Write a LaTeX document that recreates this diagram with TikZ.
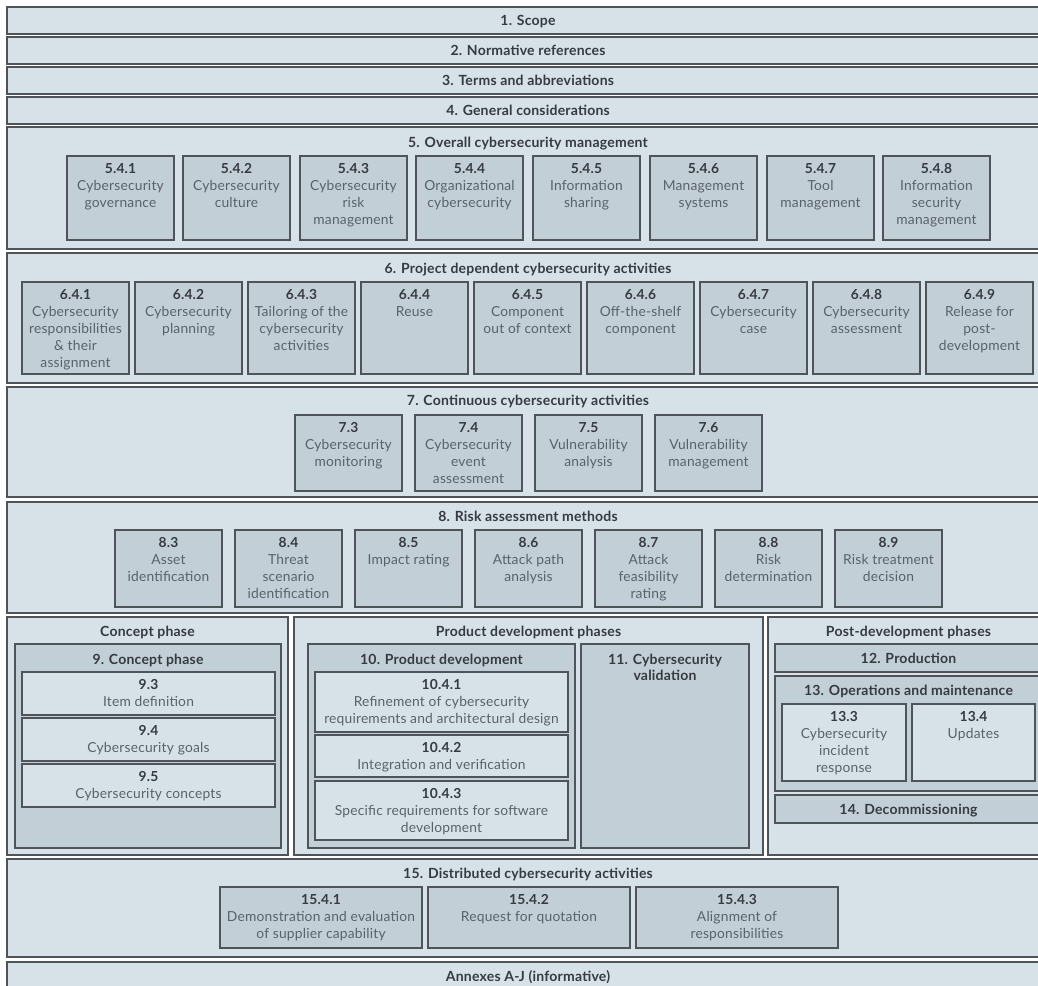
\documentclass[tikz,border=0pt]{standalone}
\usepackage{fontspec}
\setmainfont{Lato}[LetterSpace=1.5]
\definecolor{bandc}{HTML}{D6E1E8}
\definecolor{boxc}{HTML}{C3CFD6}
\definecolor{linec}{HTML}{4E545A}
\definecolor{headc}{HTML}{353B40}
\definecolor{bodyc}{HTML}{58626A}

\tikzset{
  band/.style={draw=linec, fill=bandc, line width=1.3pt, inner sep=0pt, outer sep=0pt},
  darkbox/.style={draw=linec, fill=boxc, line width=1.3pt, inner sep=0pt, outer sep=0pt},
  head/.style={font=\fontsize{14}{17}\selectfont\bfseries, text=headc, inner sep=0pt, anchor=base},
  headml/.style={font=\fontsize{14}{16}\selectfont\bfseries, text=headc, inner sep=0pt, align=center, anchor=north},
  body/.style={font=\fontsize{13.8}{17}\selectfont, text=bodyc, align=center, inner sep=0pt, anchor=north},
}

% plain rectangle: name, style, x1, y1, x2, y2
\newcommand\blk[6]{\node[#2, anchor=north west, minimum width={#5-#3}, minimum height={#6-#4}] (#1) at (#3,#4) {};}
% clause box with bold number and description: name, style, x1, y1, x2, y2, number, text
\newcommand\clause[8]{\blk{#1}{#2}{#3}{#4}{#5}{#6}
  \node[body] (#1-t) at ([yshift=-7pt]#1.north) {{\bfseries\color{headc}#7}\\#8};}
% small clause box of fixed width 107
\newcommand\smallclause[6]{\clause{#1}{darkbox}{#2}{#3}{#2+107}{#4}{#5}{#6}}

\begin{document}
\begin{tikzpicture}[x=1pt, y=-1pt]
\useasboundingbox (0,0) rectangle (1038,985);
\fill[white] (0,0) rectangle (1038,985);
\clip (0,0) rectangle (1038,985);

% clauses 1-4
\blk{b1}{band}{7}{7}{1049}{34}     \node[head] (b1-t) at (528,25.5) {1. Scope};
\blk{b2}{band}{7}{37}{1049}{64}    \node[head] (b2-t) at (528,55.5) {2. Normative references};
\blk{b3}{band}{7}{67}{1049}{94}    \node[head] (b3-t) at (528,85.5) {3. Terms and abbreviations};
\blk{b4}{band}{7}{97}{1049}{124}   \node[head] (b4-t) at (528,115.5) {4. General considerations};

% clause 5
\blk{b5}{band}{7}{127}{1049}{249}
\node[head] (b5-t) at (528,147) {5. Overall cybersecurity management};
\smallclause{c541}{67}{156}{240}{5.4.1}{Cybersecurity\\governance}
\smallclause{c542}{183}{156}{240}{5.4.2}{Cybersecurity\\culture}
\smallclause{c543}{300}{156}{240}{5.4.3}{Cybersecurity\\risk\\management}
\smallclause{c544}{416}{156}{240}{5.4.4}{Organizational\\cybersecurity}
\smallclause{c545}{533}{156}{240}{5.4.5}{Information\\sharing}
\smallclause{c546}{650}{156}{240}{5.4.6}{Management\\systems}
\smallclause{c547}{767}{156}{240}{5.4.7}{Tool\\management}
\smallclause{c548}{883}{156}{240}{5.4.8}{Information\\security\\management}

% clause 6
\blk{b6}{band}{7}{253}{1049}{383}
\node[head] (b6-t) at (528,273) {6. Project dependent cybersecurity activities};
\smallclause{c641}{22}{282}{374}{6.4.1}{Cybersecurity\\responsibilities\\\& their\\assignment}
\smallclause{c642}{135}{282}{374}{6.4.2}{Cybersecurity\\planning}
\smallclause{c643}{248}{282}{374}{6.4.3}{Tailoring of the\\cybersecurity\\activities}
\smallclause{c644}{361}{282}{374}{6.4.4}{Reuse}
\smallclause{c645}{474}{282}{374}{6.4.5}{Component\\out of context}
\smallclause{c646}{587}{282}{374}{6.4.6}{Off-the-shelf\\component}
\smallclause{c647}{700}{282}{374}{6.4.7}{Cybersecurity\\case}
\smallclause{c648}{813}{282}{374}{6.4.8}{Cybersecurity\\assessment}
\smallclause{c649}{926}{282}{374}{6.4.9}{Release for\\post-\\development}

% clause 7
\blk{b7}{band}{7}{387}{1049}{497}
\node[head] (b7-t) at (528,405.5) {7. Continuous cybersecurity activities};
\smallclause{c73}{295}{415}{491}{7.3}{Cybersecurity\\monitoring}
\smallclause{c74}{415}{415}{491}{7.4}{Cybersecurity\\event\\assessment}
\smallclause{c75}{535}{415}{491}{7.5}{Vulnerability\\analysis}
\smallclause{c76}{655}{415}{491}{7.6}{Vulnerability\\management}

% clause 8
\blk{b8}{band}{7}{502}{1049}{613}
\node[head] (b8-t) at (528,521) {8. Risk assessment methods};
\smallclause{c83}{115}{530}{607}{8.3}{Asset\\identification}
\smallclause{c84}{235}{530}{607}{8.4}{Threat\\scenario\\identification}
\smallclause{c85}{355}{530}{607}{8.5}{Impact rating}
\smallclause{c86}{475}{530}{607}{8.6}{Attack path\\analysis}
\smallclause{c87}{595}{530}{607}{8.7}{Attack\\feasibility\\rating}
\smallclause{c88}{715}{530}{607}{8.8}{Risk\\determination}
\smallclause{c89}{835}{530}{607}{8.9}{Risk treatment\\decision}

% concept phase
\blk{pc}{band}{7}{617}{288}{855}
\node[head] (pc-t) at (147.5,636) {Concept phase};
\blk{c9}{darkbox}{15}{644}{281}{848}
\node[head] (c9-t) at (148,664) {9. Concept phase};
\clause{c93}{band}{22}{672}{275}{715}{9.3}{Item definition}
\clause{c94}{band}{22}{718}{275}{761}{9.4}{Cybersecurity goals}
\clause{c95}{band}{22}{764}{275}{807}{9.5}{Cybersecurity concepts}

% product development phases
\blk{pd}{band}{294}{617}{763}{855}
\node[head] (pd-t) at (528.5,636) {Product development phases};
\blk{c10}{darkbox}{308}{644}{575}{848}
\node[head] (c10-t) at (441.5,664) {10. Product development};
\clause{c1041}{band}{315}{672}{568}{732}{10.4.1}{Refinement of cybersecurity\\requirements and architectural design}
\clause{c1042}{band}{315}{735}{568}{777}{10.4.2}{Integration and verification}
\clause{c1043}{band}{315}{781}{568}{840}{10.4.3}{Specific requirements for software\\development}
\blk{c11}{darkbox}{581}{644}{749}{848}
\node[headml] (c11-t) at (665,654) {11. Cybersecurity\\validation};

% post-development phases
\blk{pp}{band}{768}{617}{1049}{855}
\node[head] (pp-t) at (908.5,636) {Post-development phases};
\blk{c12}{darkbox}{775}{644}{1042}{672}
\node[head] (c12-t) at (908.5,663) {12. Production};
\blk{c13}{darkbox}{775}{676}{1042}{791}
\node[head] (c13-t) at (908.5,695) {13. Operations and maintenance};
\clause{c133}{band}{782}{704}{906}{781}{13.3}{Cybersecurity\\incident\\response}
\clause{c134}{band}{912}{704}{1035}{781}{13.4}{Updates}
\blk{c14}{darkbox}{775}{795}{1042}{823}
\node[head] (c14-t) at (908.5,814) {14. Decommissioning};

% clause 15
\blk{b15}{band}{7}{859}{1049}{957}
\node[head] (b15-t) at (528,878) {15. Distributed cybersecurity activities};
\clause{c1541}{darkbox}{220}{887}{422}{948}{15.4.1}{Demonstration and evaluation\\of supplier capability}
\clause{c1542}{darkbox}{428}{887}{630}{948}{15.4.2}{Request for quotation}
\clause{c1543}{darkbox}{636}{887}{838}{948}{15.4.3}{Alignment of\\responsibilities}

% annexes
\blk{ba}{band}{7}{962}{1049}{1000}
\node[head] (ba-t) at (528,981) {Annexes A-J (informative)};
\end{tikzpicture}
\end{document}
